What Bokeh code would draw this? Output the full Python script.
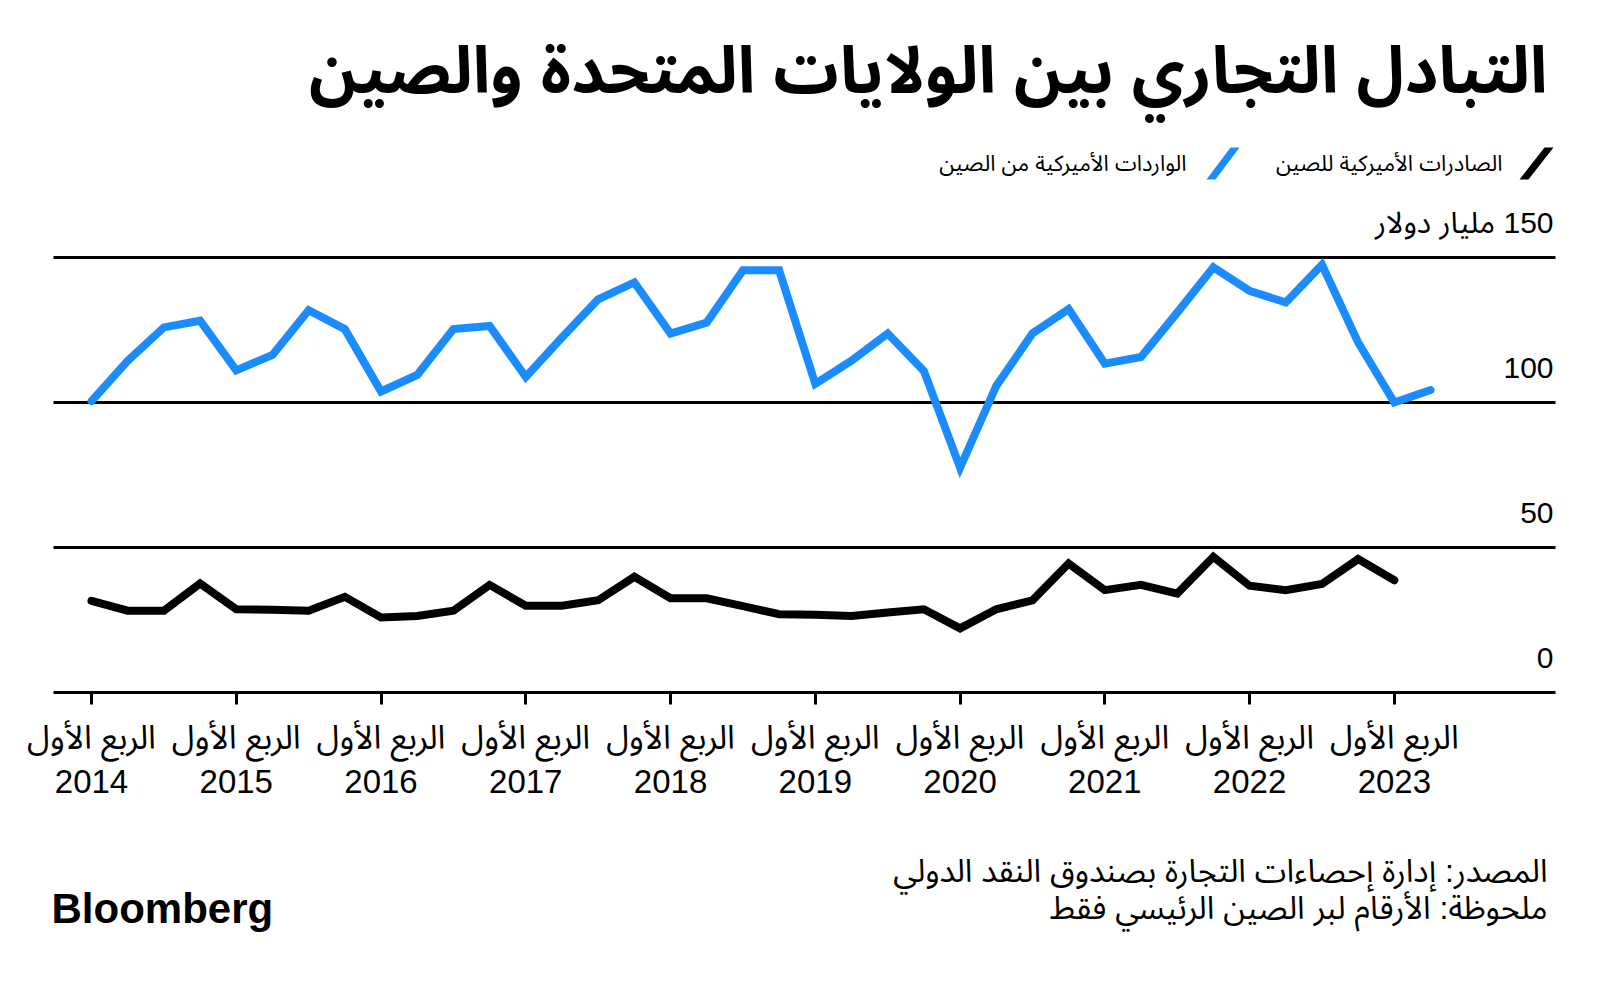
import numpy as np
from bokeh.plotting import figure
from bokeh.models import Range1d, FixedTicker, Label, PolyAnnotation, Grid
from bokeh.embed import file_html
from bokeh.resources import INLINE
from bokeh.core.properties import value

# ---------------- data ----------------
# quarter index 0 = 2014 Q1
imports_q = list(range(38))  # 2014Q1 .. 2023Q2
imports = [100.5, 114.4, 125.9, 128.2, 111.1, 116.4, 131.8, 125.3, 103.8, 109.5,
           125.3, 126.4, 108.8, 122.4, 135.6, 141.4, 123.8, 127.6, 145.6, 145.6,
           106.4, 114.4, 123.8, 110.9, 77.5, 105.7, 123.8, 132.2, 113.4, 115.7,
           131.0, 146.6, 138.5, 134.5, 147.5, 120.7, 100.0, 104.3]
exports_q = list(range(37))  # 2014Q1 .. 2023Q1
exports = [31.6, 28.2, 28.2, 37.6, 28.7, 28.5, 28.2, 33.0, 25.9, 26.4,
           28.2, 37.1, 29.9, 29.9, 31.8, 39.9, 32.5, 32.5, 29.8, 27.0,
           26.8, 26.4, 27.6, 28.7, 22.1, 28.7, 31.8, 44.5, 35.3, 37.1,
           34.1, 46.8, 36.8, 35.3, 37.4, 46.0, 38.7]

year_ticks = [0, 4, 8, 12, 16, 20, 24, 28, 32, 36]
year_labels = ["2014", "2015", "2016", "2017", "2018", "2019", "2020", "2021", "2022", "2023"]
quarter_label = "الربع الأول"
grid_ticks = [50, 100, 150]
y_ticks = [0, 50, 100, 150]
y_tick_labels = ["0", "50", "100", "\u200f150 مليار دولار"]

title_text = "التبادل التجاري بين الولايات المتحدة والصين"
legend_exports = "الصادرات الأميركية للصين"
legend_imports = "الواردات الأميركية من الصين"
source_text = "المصدر: إدارة إحصاءات التجارة بصندوق النقد الدولي"
note_text = "ملحوظة: الأرقام لبر الصين الرئيسي فقط"

BLUE = "#1a8cff"
FONT = "Liberation Sans, Noto Sans Arabic, DejaVu Sans, sans-serif"

W, H = 1584, 965
PX_Q = 36.19          # pixels per quarter
PX_V = 2.9            # pixels per billion dollars
X0_PX, Y0_PX = 91, 692  # canvas position of (0, 0)

x_start, x_end = -X0_PX / PX_Q, (W - X0_PX) / PX_Q
y_start, y_end = -(H - Y0_PX) / PX_V, Y0_PX / PX_V
plot_left, plot_right = (53 - X0_PX) / PX_Q, (1555 - X0_PX) / PX_Q

p = figure(width=W, height=H, output_backend="svg", toolbar_location=None,
           x_range=Range1d(x_start, x_end), y_range=Range1d(y_start, y_end),
           y_axis_location=None, min_border=0)
p.outline_line_color = None
p.xgrid.visible = False
p.ygrid.visible = False
p.background_fill_color = "white"
p.border_fill_color = "white"

if "cross_bounds" in Grid.properties():
    p.add_layout(Grid(dimension=1, ticker=FixedTicker(ticks=grid_ticks),
                      grid_line_color="black", grid_line_width=3,
                      cross_bounds=(plot_left, plot_right)))
else:
    p.segment(x0=[plot_left] * len(grid_ticks), x1=[plot_right] * len(grid_ticks),
              y0=grid_ticks, y1=grid_ticks, line_color="black", line_width=3)

ax = p.xaxis[0]
ax.fixed_location = 0
ax.bounds = (plot_left, plot_right)
ax.ticker = FixedTicker(ticks=year_ticks)
ax.major_label_overrides = {t: f"{quarter_label}\n{y}" for t, y in zip(year_ticks, year_labels)}
ax.axis_line_color = "black"
ax.axis_line_width = 3
ax.major_tick_line_color = "black"
ax.major_tick_line_width = 3
ax.major_tick_out = 12
ax.major_tick_in = 0
ax.minor_tick_line_color = None
ax.major_label_text_font = FONT
ax.major_label_text_font_size = "33px"
ax.major_label_text_color = "black"
ax.major_label_text_line_height = 1.2
ax.major_label_standoff = 14

p.line(exports_q, exports, line_color="black", line_width=8, line_join="miter", line_cap="round")
p.line(imports_q, imports, line_color=BLUE, line_width=8, line_join="miter", line_cap="round")

p.text(x=[plot_right] * len(y_ticks), y=y_ticks, text=y_tick_labels,
       text_align="right", text_baseline="alphabetic", y_offset=-35, x_offset=-2,
       text_font=value(FONT), text_font_size="30px", text_color="black")

def lab(x, y, text, size, align="right", baseline="middle", bold=False, font=FONT):
    p.add_layout(Label(x=x, y=y, x_units="canvas", y_units="canvas", text=text,
                       text_align=align, text_baseline=baseline,
                       text_font=font, text_font_size=size,
                       text_font_style="bold" if bold else "normal",
                       text_color="black"))

lab(1547, 70, title_text, "65px", baseline="alphabetic", bold=True)
lab(1502, 163, legend_exports, "22px")
lab(1186, 163, legend_imports, "22px")
lab(1547, 870, source_text, "32px")
lab(1547, 907, note_text, "32px")
lab(51, 908, "Bloomberg", "42px", align="left", bold=True, font="Liberation Sans")

p.add_layout(PolyAnnotation(xs=[1519, 1528, 1553, 1544], ys=[179, 179, 147, 147],
                            xs_units="canvas", ys_units="canvas",
                            fill_color="black", fill_alpha=1, line_color=None))
p.add_layout(PolyAnnotation(xs=[1206, 1215, 1239, 1230], ys=[179, 179, 147, 147],
                            xs_units="canvas", ys_units="canvas",
                            fill_color=BLUE, fill_alpha=1, line_color=None))

open("out.html", "w").write(file_html(p, INLINE))
